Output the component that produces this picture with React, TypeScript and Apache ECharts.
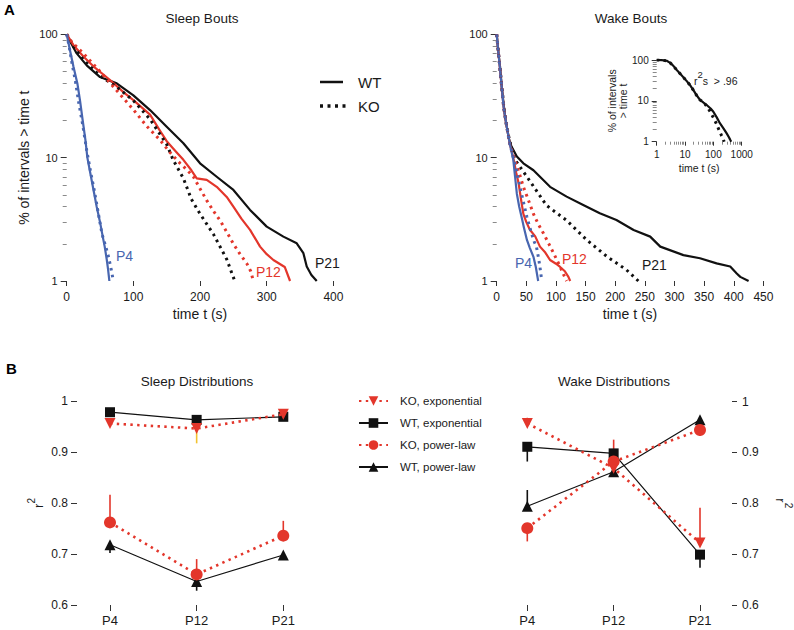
import React, { useEffect, useRef } from "react";
import * as echarts from "echarts";

const FONT = "'Liberation Sans', Arial, Helvetica, sans-serif";
const RED = "#e3362b";
const BLUE = "#4866b0";
const BLACK = "#111111";
const TXT = "#1a1a1a";
const MINOR = "#8a8a8a";

// ---------------- Panel A: % of intervals > time t  ([t (s), %]) ----------------
const sleepWT_P4 = [[0, 100], [5, 74], [10, 55], [16, 40], [20, 29], [24, 20], [28, 14], [31, 10], [36, 7.2], [41, 5.2], [45, 4], [50, 3], [54, 2.3], [57, 1.9], [60, 1.5], [62, 1.25], [64, 1.0]];
const sleepKO_P4 = [[0, 100], [4, 78], [8, 58], [13, 42], [18, 28], [24, 18.5], [30, 11.5], [36, 7.6], [42, 5.2], [48, 3.4], [53, 2.4], [58, 1.95], [63, 1.55], [67, 1.22], [70, 1.0]];
const sleepWT_P12 = [[0, 100], [10, 82], [25, 66], [40, 55], [65, 42.6], [85, 34], [100, 29.3], [125, 22.3], [140, 16.5], [150, 13.6], [165, 11], [175, 9.6], [187, 7.9], [195, 6.8], [210, 6.6], [225, 5.8], [240, 4.8], [250, 4.0], [262, 3.2], [275, 2.6], [290, 1.9], [300, 1.65], [310, 1.48], [327, 1.3], [335, 1.0]];
const sleepKO_P12 = [[0, 100], [8, 86], [25, 70], [50, 50], [75, 35], [100, 24.5], [120, 18], [140, 13.9], [155, 11], [170, 9], [180, 8], [190, 7], [200, 5.6], [210, 4.5], [220, 3.7], [230, 3.1], [240, 2.5], [250, 2.0], [260, 1.65], [270, 1.39], [276, 1.2], [280, 1.0]];
const sleepWT_P21 = [[0, 100], [8, 82], [15, 70], [30, 56], [50, 45], [75, 40], [100, 32], [125, 24.3], [150, 17.8], [175, 13.1], [200, 9.0], [225, 7.0], [250, 5.47], [275, 3.77], [300, 2.76], [325, 2.29], [345, 2.02], [355, 1.68], [360, 1.31], [367, 1.12], [375, 1.0]];
const sleepKO_P21 = [[0, 100], [10, 80], [25, 62], [50, 46], [75, 37.5], [100, 29], [125, 20.5], [150, 12.8], [160, 9.5], [175, 6.8], [187, 4.6], [200, 3.5], [220, 2.4], [240, 1.5], [252, 1.0]];

const wakeWT_P4 = [[0, 100], [3, 70], [6, 50], [9, 35], [12, 25], [17, 17.8], [22, 13], [28, 9.6], [31, 7], [34, 5.1], [38, 4], [42, 3.3], [46, 2.7], [51, 2.15], [56, 1.85], [62, 1.57], [66, 1.3], [70, 1.0]];
const wakeKO_P4 = [[0, 100], [3, 70], [6, 50], [9, 35], [12, 25], [17, 17.8], [22, 13], [28, 10], [33, 8], [38, 6.2], [44, 4.6], [51, 3.3], [58, 2.5], [63, 2.1], [67, 1.9], [71, 1.5], [74, 1.2], [76, 1.0]];
const wakeWT_P12 = [[0, 100], [3, 70], [6, 50], [9, 35], [12, 25], [17, 17.8], [22, 13], [28, 10], [33, 7.5], [37, 6.2], [41, 4.6], [45, 3.5], [50, 3], [56, 2.6], [65, 2.3], [73, 1.9], [82, 1.7], [90, 1.48], [100, 1.38], [107, 1.3], [115, 1.2], [121, 1.08], [124, 1.0]];
const wakeKO_P12 = [[0, 100], [3, 70], [6, 50], [9, 35], [12, 25], [17, 17.8], [22, 13], [28, 10.5], [31, 9.5], [38, 7.5], [45, 5.8], [53, 4.6], [62, 3.5], [70, 2.9], [79, 2.43], [88, 2.0], [96, 1.68], [104, 1.4], [112, 1.15], [118, 1.0]];
const wakeWT_P21 = [[0, 100], [3, 70], [5.6, 55], [8, 40], [11, 29], [14, 22], [17, 17.8], [21, 14], [25, 12.3], [34, 10.2], [45, 9], [62, 7.9], [90, 5.8], [118, 4.83], [146, 4.13], [174, 3.54], [202, 3.12], [231, 2.59], [259, 2.29], [276, 1.9], [315, 1.62], [343, 1.53], [371, 1.39], [394, 1.31], [405, 1.15], [411, 1.08], [425, 1.0]];
const wakeKO_P21 = [[0, 100], [3, 70], [6, 50], [9, 36], [12, 26], [16, 19], [20, 15], [25, 12], [31, 9.6], [51, 7], [84, 4.1], [118, 3.1], [152, 2.15], [186, 1.58], [219, 1.23], [239, 1.0]];

// inset (log-log), wake P21
const insetWT = [[1, 100], [1.5, 99], [2.25, 96], [3, 85], [4, 70], [5.1, 57], [7, 45], [10, 34], [15, 24.4], [20, 18], [25, 14], [34, 10.5], [45, 9], [58, 7.9], [80, 6.5], [100, 5.4], [130, 4], [172, 2.8], [230, 2.1], [295, 1.6], [350, 1.3], [387, 1.14], [425, 1.0]];
const insetKO = [[1, 100], [1.5, 99], [2.25, 96], [3, 85], [4, 70], [5.1, 57], [7, 45], [10, 34], [15, 24.4], [20, 18], [25, 14], [34, 10.5], [44, 9.4], [60, 7.2], [80, 5.2], [100, 3.9], [130, 2.7], [160, 1.9], [195, 1.4], [225, 1.15], [239, 1.0]];

const minorLog2 = [2, 3, 4, 5, 6, 7, 8, 9, 20, 30, 40, 50, 60, 70, 80, 90];
const minorLog3 = [2, 3, 4, 5, 6, 7, 8, 9, 20, 30, 40, 50, 60, 70, 80, 90, 200, 300, 400, 500, 600, 700, 800, 900];

// ---------------- Panel B: r^2 of fits ----------------
const ages = ["P4", "P12", "P21"];
const legendNames = ["KO, exponential", "WT, exponential", "KO, power-law", "WT, power-law"];

const sleepKOexp = [0.956, 0.946, 0.974];
const sleepWTexp = [0.978, 0.963, 0.969];
const sleepKOpow = [0.762, 0.66, 0.736];
const sleepWTpow = [0.718, 0.646, 0.698];
const sleepKOexpErr = [null, 0.917, null];
const sleepKOpowErr = [0.816, 0.69, 0.765];
const sleepWTpowErr = [0.702, 0.628, 0.69];
const sleepSig = [[0, 0.888, "†"], [1, 0.861, "†"], [2, 0.869, "†"]];

const wakeKOexp = [0.957, 0.869, 0.722];
const wakeWTexp = [0.911, 0.898, 0.699];
const wakeKOpow = [0.751, 0.882, 0.944];
const wakeWTpow = [0.794, 0.862, 0.964];
const wakeKOexpErr = [0.968, 0.925, 0.791];
const wakeWTexpErr = [0.882, null, 0.673];
const wakeKOpowErr = [0.725, null, 0.932];
const wakeWTpowErr = [0.826, null, null];
const wakeSig = [[0, 0.856, "*"], [2, 0.869, "†"]];

const tickLine = { color: "#333", width: 1 };
const plainNum = (v: number) => String(v);

function curve(name: string, data: number[][], color: string, dotted: boolean, xi: number, yi: number) {
  return {
    type: "line", name, data, xAxisIndex: xi, yAxisIndex: yi, symbol: "none", showSymbol: false, silent: true,
    lineStyle: { color, width: dotted ? 3 : 2.2, type: dotted ? [2.6, 4.2] : "solid", cap: "butt", join: "round" },
    itemStyle: { color }, z: dotted ? 3 : 2,
  };
}

function dist(name: string, vals: number[], xi: number, yi: number, kind: string) {
  const ko = kind.startsWith("KO");
  const symbol = kind.endsWith("exp") ? (ko ? "triangle" : "rect") : (ko ? "circle" : "triangle");
  const size = symbol === "rect" ? 10 : symbol === "circle" ? 12 : 11;
  return {
    type: "line", name, data: vals, xAxisIndex: xi, yAxisIndex: yi, symbol, symbolSize: size,
    symbolRotate: kind === "KOexp" ? 180 : 0, showSymbol: true, silent: true,
    itemStyle: { color: ko ? RED : BLACK },
    lineStyle: ko ? { color: RED, width: 2.6, type: [2.4, 4.4], cap: "butt" } : { color: BLACK, width: 1.2 },
    z: ko ? 4 : 3,
  };
}

function errBars(vals: number[], ends: (number | null)[], color: string, xi: number, yi: number) {
  const data = ends.map((e, i) => (e == null ? null : [i, vals[i], e])).filter((d) => d !== null);
  return {
    type: "custom", xAxisIndex: xi, yAxisIndex: yi, silent: true, z: 1,
    encode: { x: 0, y: [1, 2] },
    data,
    renderItem: (_p: any, api: any) => {
      const a = api.coord([api.value(0), api.value(1)]);
      const b = api.coord([api.value(0), api.value(2)]);
      return { type: "line", shape: { x1: a[0], y1: a[1], x2: b[0], y2: b[1] }, style: { stroke: color, lineWidth: 1.6 } };
    },
  };
}

function sig(data: any[], xi: number, yi: number) {
  return {
    type: "scatter", data, xAxisIndex: xi, yAxisIndex: yi, symbolSize: 1, silent: true,
    itemStyle: { opacity: 0 },
    label: { show: true, position: "inside", formatter: (p: any) => p.value[2], fontSize: 14, color: "#333", fontFamily: FONT },
  };
}

function logY(gridIndex: number, max: number, minor: boolean, extra: any = {}) {
  return {
    type: "log", logBase: 10, gridIndex, min: 1, max, position: "left", offset: 0,
    axisLine: { show: false }, splitLine: { show: false },
    axisTick: minor
      ? { show: true, length: 4, customValues: minorLog2, lineStyle: { color: MINOR, width: 1 } }
      : { show: true, length: 6, lineStyle: tickLine },
    axisLabel: minor ? { show: false } : { fontSize: 11, margin: 9, color: TXT, fontFamily: FONT, formatter: plainNum },
    ...extra,
  };
}

const option: any = {
  animation: false,
  backgroundColor: "#ffffff",
  textStyle: { fontFamily: FONT },
  title: [
    { text: "A", left: 4, top: 2, padding: 0, textStyle: { fontSize: 15, fontWeight: "bold", color: "#000", fontFamily: FONT } },
    { text: "Sleep Bouts", left: 202, top: 11, padding: 0, textAlign: "center", textStyle: { fontSize: 13.5, fontWeight: "normal", color: TXT, fontFamily: FONT } },
    { text: "Wake Bouts", left: 631, top: 11, padding: 0, textAlign: "center", textStyle: { fontSize: 13.5, fontWeight: "normal", color: TXT, fontFamily: FONT } },
    { text: "B", left: 6, top: 361, padding: 0, textStyle: { fontSize: 15, fontWeight: "bold", color: "#000", fontFamily: FONT } },
    { text: "Sleep Distributions", left: 197, top: 374, padding: 0, textAlign: "center", textStyle: { fontSize: 13.5, fontWeight: "normal", color: TXT, fontFamily: FONT } },
    { text: "Wake Distributions", left: 614, top: 374, padding: 0, textAlign: "center", textStyle: { fontSize: 13.5, fontWeight: "normal", color: TXT, fontFamily: FONT } },
  ],
  legend: {
    data: legendNames, orient: "vertical", left: 353, top: 390, itemWidth: 29, itemHeight: 12, itemGap: 10,
    selectedMode: false,
    textStyle: { fontSize: 11.5, color: TXT, fontFamily: FONT, padding: [0, 0, 0, 7] },
  },
  grid: [
    { left: 66.7, top: 34.3, width: 266.7, height: 246.7 },
    { left: 496.7, top: 34.3, width: 266.7, height: 246.7 },
    { left: 656.7, top: 60, width: 85, height: 81.7 },
    { left: 110, top: 401, width: 173.3, height: 204 },
    { left: 527.3, top: 401.5, width: 172.7, height: 203.5 },
  ],
  xAxis: [
    {
      type: "value", gridIndex: 0, min: 0, max: 400, interval: 100, position: "bottom",
      axisLine: { show: false }, splitLine: { show: false },
      axisTick: { show: true, length: 5, lineStyle: tickLine },
      axisLabel: { fontSize: 12, margin: 10, color: TXT },
      name: "time t (s)", nameLocation: "middle", nameGap: 26, nameTextStyle: { fontSize: 14, color: TXT },
    },
    {
      type: "value", gridIndex: 1, min: 0, max: 450, interval: 50, position: "bottom",
      axisLine: { show: false }, splitLine: { show: false },
      axisTick: { show: true, length: 5, lineStyle: tickLine },
      axisLabel: { fontSize: 12, margin: 10, color: TXT },
      name: "time t (s)", nameLocation: "middle", nameGap: 26, nameTextStyle: { fontSize: 14, color: TXT },
    },
    {
      type: "log", logBase: 10, gridIndex: 2, min: 1, max: 1000, position: "bottom", offset: 0,
      axisLine: { show: false }, splitLine: { show: false },
      axisTick: { show: true, length: 4, lineStyle: tickLine },
      axisLabel: { fontSize: 10, margin: 8, color: TXT, formatter: plainNum },
      name: "time t (s)", nameLocation: "middle", nameGap: 21, nameTextStyle: { fontSize: 10.5, color: TXT },
    },
    {
      type: "log", logBase: 10, gridIndex: 2, min: 1, max: 1000, position: "bottom", offset: 0,
      axisLine: { show: false }, splitLine: { show: false },
      axisTick: { show: true, length: 3, customValues: minorLog3, lineStyle: { color: MINOR, width: 1 } },
      axisLabel: { show: false },
    },
    {
      type: "category", gridIndex: 3, data: ages, boundaryGap: false, position: "bottom",
      axisLine: { show: false },
      axisTick: { show: true, length: 6, lineStyle: tickLine },
      axisLabel: { fontSize: 13, margin: 9, color: TXT },
    },
    {
      type: "category", gridIndex: 4, data: ages, boundaryGap: false, position: "bottom",
      axisLine: { show: false },
      axisTick: { show: true, length: 6, lineStyle: tickLine },
      axisLabel: { fontSize: 13, margin: 9, color: TXT },
    },
  ],
  yAxis: [
    logY(0, 100, false, { name: "% of intervals > time t", nameLocation: "middle", nameRotate: 90, nameGap: 36, nameTextStyle: { fontSize: 14, color: TXT } }),
    logY(0, 100, true),
    logY(1, 100, false),
    logY(1, 100, true),
    logY(2, 100, false, {
      axisLabel: { fontSize: 10, margin: 8, color: TXT, formatter: plainNum },
      axisTick: { show: true, length: 5, lineStyle: tickLine },
      name: "% of intervals\n> time t", nameLocation: "middle", nameRotate: 90, nameGap: 27,
      nameTextStyle: { fontSize: 10.5, lineHeight: 11, color: TXT },
    }),
    logY(2, 100, true),
    {
      type: "value", gridIndex: 3, min: 0.6, max: 1, interval: 0.1, position: "left", offset: 33,
      axisLine: { show: false }, splitLine: { show: false },
      axisTick: { show: true, length: 6, lineStyle: tickLine },
      axisLabel: { fontSize: 12, margin: 9, color: TXT },
      name: "{a|r}{s|2}", nameLocation: "middle", nameRotate: 90, nameGap: 32,
      nameTextStyle: { color: TXT, rich: { a: { fontSize: 13, padding: [6, 0, 0, 0], verticalAlign: "top" }, s: { fontSize: 10, verticalAlign: "top" } } },
    },
    {
      type: "value", gridIndex: 4, min: 0.6, max: 1, interval: 0.1, position: "right", offset: 32,
      axisLine: { show: false }, splitLine: { show: false },
      axisTick: { show: true, length: 5, lineStyle: tickLine },
      axisLabel: { fontSize: 12, margin: 10, color: TXT },
      name: "{a|r}{s|2}", nameLocation: "middle", nameRotate: -90, nameGap: 42,
      nameTextStyle: { color: TXT, rich: { a: { fontSize: 13, padding: [6, 0, 0, 0], verticalAlign: "top" }, s: { fontSize: 10, verticalAlign: "top" } } },
    },
  ],
  graphic: [
    { type: "line", shape: { x1: 320, y1: 82, x2: 343, y2: 82 }, style: { stroke: BLACK, lineWidth: 2.5 } },
    { type: "line", shape: { x1: 320, y1: 106, x2: 346, y2: 106 }, style: { stroke: BLACK, lineWidth: 3.5, lineDash: [3, 4.5] } },
    { type: "text", x: 358, y: 82, style: { text: "WT", fontSize: 15, fontFamily: FONT, fill: TXT, verticalAlign: "middle" } },
    { type: "text", x: 358, y: 106, style: { text: "KO", fontSize: 15, fontFamily: FONT, fill: TXT, verticalAlign: "middle" } },
    { type: "text", x: 116, y: 256, style: { text: "P4", fontSize: 14, fontFamily: FONT, fill: BLUE, verticalAlign: "middle" } },
    { type: "text", x: 256, y: 272, style: { text: "P12", fontSize: 14, fontFamily: FONT, fill: RED, verticalAlign: "middle" } },
    { type: "text", x: 315, y: 263, style: { text: "P21", fontSize: 14, fontFamily: FONT, fill: TXT, verticalAlign: "middle" } },
    { type: "text", x: 515, y: 263, style: { text: "P4", fontSize: 14, fontFamily: FONT, fill: BLUE, verticalAlign: "middle" } },
    { type: "text", x: 562, y: 259, style: { text: "P12", fontSize: 14, fontFamily: FONT, fill: RED, verticalAlign: "middle" } },
    { type: "text", x: 642, y: 265, style: { text: "P21", fontSize: 14, fontFamily: FONT, fill: TXT, verticalAlign: "middle" } },
    {
      type: "text", x: 694, y: 69,
      style: {
        text: "{a|r}{s|2}{a|s  > .96}", fontFamily: FONT, fill: TXT,
        rich: { a: { fontSize: 10.5, padding: [6, 0, 0, 0], verticalAlign: "top" }, s: { fontSize: 9.5, verticalAlign: "top" } },
      },
    },
  ],
  series: [
    curve("WT", sleepWT_P21, BLACK, false, 0, 0),
    curve("KO", sleepKO_P21, BLACK, true, 0, 0),
    curve("WT P12", sleepWT_P12, RED, false, 0, 0),
    curve("KO P12", sleepKO_P12, RED, true, 0, 0),
    curve("WT P4", sleepWT_P4, BLUE, false, 0, 0),
    curve("KO P4", sleepKO_P4, BLUE, true, 0, 0),

    curve("wake WT P21", wakeWT_P21, BLACK, false, 1, 2),
    curve("wake KO P21", wakeKO_P21, BLACK, true, 1, 2),
    curve("wake WT P12", wakeWT_P12, RED, false, 1, 2),
    curve("wake KO P12", wakeKO_P12, RED, true, 1, 2),
    curve("wake WT P4", wakeWT_P4, BLUE, false, 1, 2),
    curve("wake KO P4", wakeKO_P4, BLUE, true, 1, 2),

    curve("inset WT", insetWT, BLACK, false, 2, 4),
    curve("inset KO", insetKO, BLACK, true, 2, 4),

    errBars(sleepKOexp, sleepKOexpErr, "#f2c230", 4, 6),
    errBars(sleepKOpow, sleepKOpowErr, RED, 4, 6),
    errBars(sleepWTpow, sleepWTpowErr, BLACK, 4, 6),
    dist(legendNames[0], sleepKOexp, 4, 6, "KOexp"),
    dist(legendNames[1], sleepWTexp, 4, 6, "WTexp"),
    dist(legendNames[2], sleepKOpow, 4, 6, "KOpow"),
    dist(legendNames[3], sleepWTpow, 4, 6, "WTpow"),
    sig(sleepSig, 4, 6),

    errBars(wakeKOexp, wakeKOexpErr, RED, 5, 7),
    errBars(wakeWTexp, wakeWTexpErr, BLACK, 5, 7),
    errBars(wakeKOpow, wakeKOpowErr, RED, 5, 7),
    errBars(wakeWTpow, wakeWTpowErr, BLACK, 5, 7),
    dist(legendNames[0], wakeKOexp, 5, 7, "KOexp"),
    dist(legendNames[1], wakeWTexp, 5, 7, "WTexp"),
    dist(legendNames[2], wakeKOpow, 5, 7, "KOpow"),
    dist(legendNames[3], wakeWTpow, 5, 7, "WTpow"),
    sig(wakeSig, 5, 7),
  ],
};

export default function App() {
  const ref = useRef<HTMLDivElement>(null);
  useEffect(() => {
    const chart = echarts.init(ref.current!, undefined, { renderer: "svg", width: 794, height: 630 });
    chart.setOption(option);
    return () => chart.dispose();
  }, []);
  return <div ref={ref} style={{ position: "absolute", left: 0, top: 0, width: 794, height: 630, background: "#fff" }} />;
}
